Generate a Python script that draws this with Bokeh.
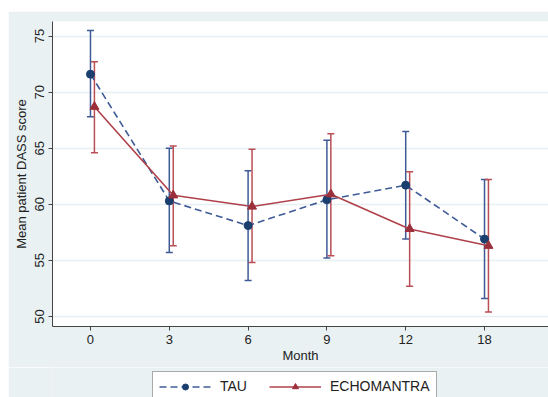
from bokeh.plotting import figure
from bokeh.models import (ColumnDataSource, Whisker, TeeHead, Legend, LegendItem,
                          Range1d, FixedTicker)
from bokeh.layouts import column
from bokeh.embed import file_html
from bokeh.resources import INLINE

months = ["0", "3", "6", "9", "12", "18"]
tau_mean = [71.6, 60.3, 58.1, 60.4, 61.7, 56.9]
tau_low = [67.8, 55.7, 53.2, 55.2, 56.9, 51.6]
tau_high = [75.5, 65.0, 63.0, 65.7, 66.5, 62.2]
echo_mean = [68.7, 60.8, 59.8, 60.9, 57.8, 56.3]
echo_low = [64.6, 56.3, 54.8, 55.4, 52.7, 50.4]
echo_high = [72.7, 65.2, 64.9, 66.3, 62.9, 62.2]
y_ticks = [50, 55, 60, 65, 70, 75]

pos = list(range(len(months)))
offset = 0.05
pos_echo = [p_ + offset for p_ in pos]

FONT = "Liberation Sans"
BG = "#E9F1F3"
NAVY = "#1A3F6E"
NAVY_BAR = "#3F5B96"
MAROON = "#9B2F3A"
MAROON_LINE = "#B0414A"
MAROON_BAR = "#BA4E55"

tau_src = ColumnDataSource(dict(x=pos, y=tau_mean, lower=tau_low, upper=tau_high))
echo_src = ColumnDataSource(dict(x=pos_echo, y=echo_mean, lower=echo_low, upper=echo_high))

p = figure(width=540, height=356, output_backend="svg", toolbar_location=None,
           x_range=Range1d(-0.482, 5.812), y_range=Range1d(49.1, 76.3),
           min_border_left=44, min_border_right=0, min_border_top=10, min_border_bottom=41)
p.background_fill_color = "white"
p.border_fill_color = BG
p.outline_line_color = None

# error bars
for src, col in ((tau_src, NAVY_BAR), (echo_src, MAROON_BAR)):
    w = Whisker(source=src, base="x", upper="upper", lower="lower",
                line_color=col, line_width=1.5,
                upper_head=TeeHead(size=7, line_color=col, line_width=1.5),
                lower_head=TeeHead(size=7, line_color=col, line_width=1.5))
    p.add_layout(w)

TAU_LINE = dict(line_color=NAVY_BAR, line_width=1.6, line_dash="7 4")
TAU_PTS = dict(marker="circle", size=8, fill_color=NAVY, line_color=NAVY)
ECHO_LINE = dict(line_color=MAROON_LINE, line_width=1.6)
ECHO_PTS = dict(marker="triangle", size=9, fill_color=MAROON, line_color=MAROON)

p.line("x", "y", source=tau_src, **TAU_LINE)
p.scatter("x", "y", source=tau_src, **TAU_PTS)
p.line("x", "y", source=echo_src, **ECHO_LINE)
p.scatter("x", "y", source=echo_src, **ECHO_PTS)

# axes
p.xaxis.ticker = FixedTicker(ticks=pos)
p.xaxis.major_label_overrides = {i: m for i, m in enumerate(months)}
p.yaxis.ticker = FixedTicker(ticks=y_ticks)
p.yaxis.major_label_orientation = "vertical"
p.xaxis.axis_label = "Month"
p.yaxis.axis_label = "Mean patient DASS score"
for ax in (p.xaxis, p.yaxis):
    ax.axis_line_color = "#444444"
    ax.axis_line_width = 1
    ax.major_tick_line_color = "#444444"
    ax.major_tick_out = 4
    ax.major_tick_in = 0
    ax.minor_tick_line_color = None
    ax.major_label_text_font = FONT
    ax.major_label_text_font_size = "13px"
    ax.major_label_text_color = "#222222"
    ax.axis_label_text_font = FONT
    ax.axis_label_text_font_size = "13px"
    ax.axis_label_text_font_style = "normal"
    ax.axis_label_text_color = "#222222"
p.yaxis.major_label_standoff = 4
p.yaxis.axis_label_standoff = 4
p.xaxis.major_label_standoff = 4
p.xaxis.axis_label_standoff = 1

p.xgrid.grid_line_color = None
p.ygrid.grid_line_color = "#E6EFF1"
p.ygrid.grid_line_width = 1.5

# legend strip below the plot (its own small figure so the box is not clipped).
# Its renderers share the series sources but lie outside this strip's ranges,
# so only their legend swatches are visible.
lp = figure(width=540, height=30, output_backend="svg", toolbar_location=None,
            x_range=Range1d(0, 1), y_range=Range1d(0, 1),
            x_axis_type=None, y_axis_type=None,
            min_border_left=0, min_border_right=0, min_border_top=0, min_border_bottom=0)
lp.background_fill_color = BG
lp.border_fill_color = BG
lp.outline_line_color = None
lp.xgrid.grid_line_color = None
lp.ygrid.grid_line_color = None
lt_line = lp.line("x", "y", source=tau_src, **TAU_LINE)
lt_pts = lp.scatter("x", "y", source=tau_src, **TAU_PTS)
le_line = lp.line("x", "y", source=echo_src, **ECHO_LINE)
le_pts = lp.scatter("x", "y", source=echo_src, **ECHO_PTS)

legend = Legend(items=[LegendItem(label="TAU", renderers=[lt_line, lt_pts]),
                       LegendItem(label="ECHOMANTRA", renderers=[le_line, le_pts])],
                orientation="horizontal", location=(100, -4),
                glyph_width=52, glyph_height=15, label_height=15,
                label_standoff=9, spacing=22, padding=6, margin=0,
                label_text_font=FONT, label_text_font_size="14px", label_text_color="#222222",
                border_line_color="#555555", border_line_width=1,
                background_fill_color="white", background_fill_alpha=1)
lp.add_layout(legend, "center")

layout = column(p, lp, spacing=0, margin=(11, 0, 0, 8))
open("out.html", "w").write(file_html(layout, INLINE))
